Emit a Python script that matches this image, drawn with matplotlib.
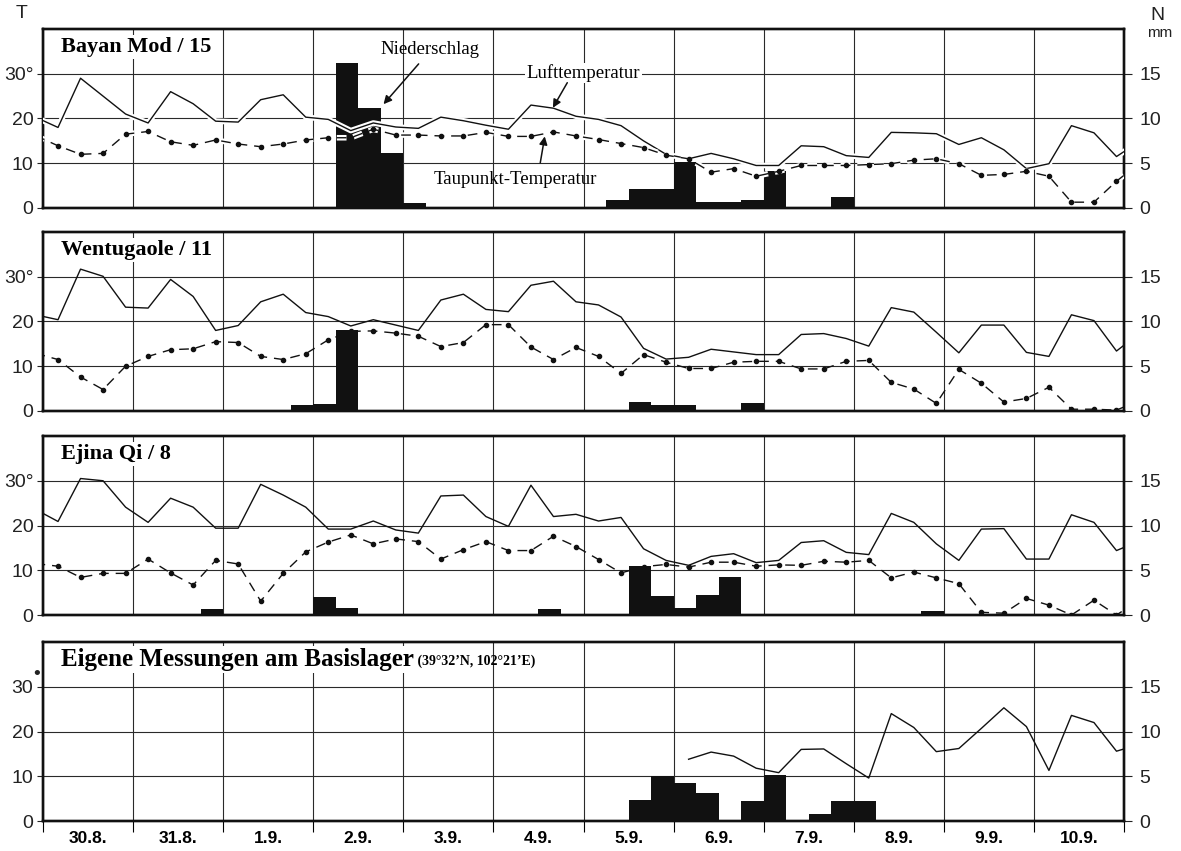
import matplotlib
matplotlib.use('Agg')
import matplotlib.pyplot as plt
import matplotlib.patheffects as pe
import numpy as np

plt.rcParams['font.family'] = ['Liberation Sans Narrow', 'Liberation Sans', 'DejaVu Sans']

nan = np.nan

day_labels = ['30.8.', '31.8.', '1.9.', '2.9.', '3.9.', '4.9.',
              '5.9.', '6.9.', '7.9.', '8.9.', '9.9.', '10.9.']

# observations at 4, 10, 16 and 22 h; first/last value belong to the
# neighbouring days and are only drawn up to the frame
obs_x = np.arange(-1, 49) * 0.25 + 4 / 24
rain_x = np.arange(48) * 0.25

# ---- Bayan Mod / 15
bayan_temp = [20.3,
              18, 29, 25, 21,
              19, 26, 23.3, 19.4,
              19.2, 24.2, 25.3, 20.3,
              19.8, 17.3, 19, 18.1,
              17.8, 20.3, 19.5, 18.5,
              17.6, 23, 22.3, 20.5,
              19.8, 18.4, 15, 12,
              11, 12.2, 11, 9.5,
              9.5, 13.9, 13.7, 11.7,
              11.3, 16.9, 16.8, 16.6,
              14.2, 15.7, 13, 8.8,
              9.9, 18.4, 16.8, 11.5,
              14.8]
bayan_dew = [16.2,
             13.9, 12, 12.2, 16.5,
             17.1, 14.8, 14, 15.2,
             14.3, 13.7, 14.3, 15.2,
             15.7, 15.7, 17.6, 16.3,
             16.3, 16.1, 16.1, 16.9,
             16, 16, 17, 16.1,
             15.3, 14.4, 13.5, 11.8,
             11, 8, 8.8, 7.1,
             8.2, 9.5, 9.5, 9.5,
             9.7, 9.9, 10.7, 11,
             9.9, 7.3, 7.5, 8.2,
             7.1, 1.3, 1.3, 6,
             9.9]
bayan_rain = [0, 0, 0, 0,
              0, 0, 0, 0,
              0, 0, 0, 0,
              0, 16.2, 11.2, 6.1,
              0.6, 0, 0, 0,
              0, 0, 0, 0,
              0, 0.9, 2.1, 2.1,
              5.1, 0.65, 0.65, 0.9,
              4.1, 0, 0, 1.2,
              0, 0, 0, 0,
              0, 0, 0, 0,
              0, 0, 0, 0]

# ---- Wentugaole / 11
wentu_temp = [21.5,
              20.4, 31.7, 30.1, 23.2,
              23, 29.4, 25.6, 18,
              19.1, 24.4, 26.1, 22,
              21.1, 19, 20.4, 19.2,
              18, 24.8, 26.1, 22.7,
              22.2, 28.1, 29, 24.4,
              23.7, 21, 14, 11.6,
              12, 13.8, 13.2, 12.6,
              12.6, 17.1, 17.3, 16.2,
              14.5, 23.1, 22.1, 17.6,
              13, 19.2, 19.2, 13.1,
              12.2, 21.5, 20.2, 13.4,
              17.3]
wentu_dew = [12.9,
             11.5, 7.6, 4.8, 10,
             12.2, 13.7, 13.9, 15.5,
             15.3, 12.2, 11.5, 12.8,
             15.9, 17.8, 17.9, 17.4,
             16.7, 14.4, 15.3, 19.3,
             19.3, 14.3, 11.5, 14.2,
             12.2, 8.4, 12.6, 10.9,
             9.5, 9.5, 10.9, 11.1,
             11.1, 9.4, 9.4, 11.1,
             11.3, 6.4, 4.9, 1.7,
             9.3, 6.2, 2, 2.8,
             5.3, 0.4, 0.4, 0.2,
             2.3]
wentu_rain = [0, 0, 0, 0,
              0, 0, 0, 0,
              0, 0, 0, 0.63,
              0.75, 9.1, 0, 0,
              0, 0, 0, 0,
              0, 0, 0, 0,
              0, 0, 1.0, 0.65,
              0.65, 0, 0, 0.9,
              0, 0, 0, 0,
              0, 0, 0, 0,
              0, 0, 0, 0,
              0, 0, 0, 0]

# ---- Ejina Qi / 8
ejina_temp = [23.6,
              20.9, 30.5, 30, 24.1,
              20.7, 26.1, 24.1, 19.4,
              19.4, 29.2, 26.8, 24.1,
              19.2, 19.2, 21, 19,
              18.3, 26.6, 26.8, 22,
              19.8, 29, 22, 22.5,
              21, 21.8, 14.8, 12.2,
              11.1, 13.1, 13.7, 11.7,
              12.2, 16.2, 16.6, 14,
              13.5, 22.7, 20.7, 15.9,
              12.2, 19.2, 19.3, 12.5,
              12.5, 22.4, 20.7, 14.4,
              16.5]
ejina_dew = [11.5,
             10.9, 8.4, 9.3, 9.3,
             12.5, 9.4, 6.7, 12.2,
             11.4, 3.1, 9.3, 14.1,
             16.3, 17.9, 15.9, 17,
             16.4, 12.5, 14.6, 16.4,
             14.4, 14.4, 17.6, 15.3,
             12.4, 9.4, 10.8, 11.3,
             10.7, 11.8, 11.8, 10.9,
             11.2, 11.1, 12, 11.8,
             12.2, 8.3, 9.6, 8.3,
             7, 0.6, 0.4, 3.7,
             2.2, 0, 3.3, 0,
             3.3]
ejina_rain = [0, 0, 0, 0,
              0, 0, 0, 0.7,
              0, 0, 0, 0,
              2.0, 0.75, 0, 0,
              0, 0, 0, 0,
              0, 0, 0.7, 0,
              0, 0, 5.5, 2.1,
              0.8, 2.2, 4.2, 0,
              0, 0, 0, 0,
              0, 0, 0, 0.5,
              0, 0, 0, 0,
              0, 0, 0, 0]

# ---- own measurements at base camp
camp_temp = [nan] + [nan] * 28 + [
             13.8, 15.4, 14.5, 11.8,
             10.8, 16, 16.1, 12.8,
             9.6, 24, 20.9, 15.5,
             16.2, 20.7, 25.3, 21.1,
             11.3, 23.6, 22, 15.6,
             17.1]
camp_rain = [0, 0, 0, 0,
             0, 0, 0, 0,
             0, 0, 0, 0,
             0, 0, 0, 0,
             0, 0, 0, 0,
             0, 0, 0, 0,
             0, 0, 2.3, 5.0,
             4.3, 3.1, 0, 2.2,
             5.1, 0, 0.8, 2.2,
             2.2, 0, 0, 0,
             0, 0, 0, 0,
             0, 0, 0, 0]

W, H = 1181, 851
fig = plt.figure(figsize=(W / 100, H / 100), dpi=100)

LEFT, WIDTH = 43 / W, 1081 / W
HEIGHT = 179 / H
bottoms_px = [208, 411, 615, 821]

serif = ['Liberation Serif', 'DejaVu Serif']
grid_kw = dict(color='#2a2a2a', linewidth=0.8)


def station_panel(bottom_px, title, temp, dew, rain, halo=False, last=False,
                  title_size=16):
    rect = [LEFT, 1 - bottom_px / H, WIDTH, HEIGHT]
    ax_n = fig.add_axes(rect)
    ax_t = fig.add_axes(rect, sharex=ax_n)
    ax_t.patch.set_visible(False)

    # precipitation (right axis, mm) with grid underneath
    ax_n.bar(rain_x, rain, width=0.25, align='edge', color='#111111',
             linewidth=0)
    ax_n.set_xlim(0, 12)
    ax_n.set_ylim(0, 20)
    ax_n.set_xticks(np.arange(13))
    ax_n.set_yticks([0, 5, 10, 15])
    ax_n.set_axisbelow(True)
    ax_n.grid(True, **grid_kw)
    ax_n.yaxis.tick_right()
    ax_n.tick_params(axis='y', direction='out', length=6, width=0.8,
                     pad=5, labelsize=14, colors='#222222')

    # temperatures (left axis)
    effects = None
    if halo:
        effects = [pe.Stroke(linewidth=4, foreground='white'), pe.Normal()]
    ax_t.plot(obs_x, temp, color='#111111', linewidth=1.0,
              path_effects=effects, zorder=3)
    if dew is not None:
        ax_t.plot(obs_x, dew, color='#111111', linewidth=1.0,
                  linestyle=(0, (7, 5)), path_effects=effects, zorder=3)
        ax_t.plot(obs_x, dew, linestyle='none', marker='o', markersize=3,
                  color='#111111', zorder=4)
    ax_t.set_ylim(0, 40)
    ax_t.set_yticks([0, 10, 20, 30])
    ax_t.set_yticklabels(['0', '10', '20', '30' if last else '30°'])
    ax_t.tick_params(axis='y', direction='out', length=4, width=0.8,
                     pad=3, labelsize=14, colors='#222222')
    ax_t.tick_params(axis='x', which='both', length=0, labelbottom=False)

    for a in (ax_n, ax_t):
        for sp in a.spines.values():
            sp.set_linewidth(1.7)
            sp.set_color('#111111')

    if last:
        ax_n.set_xticks(np.arange(12) + 0.5, minor=True)
        ax_n.set_xticklabels(day_labels, minor=True)
        ax_n.set_xticklabels([])
        ax_n.tick_params(axis='x', which='major', direction='out',
                         length=8, width=0.8)
        ax_n.tick_params(axis='x', which='minor', length=0, pad=7,
                         labelsize=12.5)
        for lab in ax_n.get_xticklabels(minor=True):
            lab.set_fontweight('bold')
            lab.set_family(['Liberation Sans', 'DejaVu Sans'])
    else:
        ax_n.tick_params(axis='x', which='both', length=0, labelbottom=False)

    txt = ax_t.text(0.017, 0.9, title, transform=ax_t.transAxes,
                    fontsize=title_size, fontweight='bold', family=serif,
                    va='center', ha='left', zorder=5,
                    bbox=dict(facecolor='white', edgecolor='none', pad=1.5))
    return ax_t, ax_n, txt


arrow_kw = dict(arrowstyle='-|>', color='#111111', lw=1.1,
                mutation_scale=12, shrinkA=0, shrinkB=0)
note_kw = dict(fontsize=13.5, family=serif, ha='center', va='center')

ax1, _, _ = station_panel(bottoms_px[0], 'Bayan Mod / 15',
                          bayan_temp, bayan_dew, bayan_rain, halo=True)
ax1.text(4.3, 35.5, 'Niederschlag', zorder=6, **note_kw)
ax1.annotate('', xy=(3.78, 23.2), xytext=(4.17, 32.2),
             arrowprops=arrow_kw, zorder=6)
ax1.text(6.0, 30.2, 'Lufttemperatur', zorder=6,
         bbox=dict(facecolor='white', edgecolor='none', pad=1), **note_kw)
ax1.annotate('', xy=(5.66, 22.4), xytext=(5.82, 28.0),
             arrowprops=arrow_kw, zorder=6)
ax1.text(5.24, 6.3, 'Taupunkt-Temperatur', zorder=6, **note_kw)
ax1.annotate('', xy=(5.57, 16.0), xytext=(5.52, 10.1),
             arrowprops=arrow_kw, zorder=6)

station_panel(bottoms_px[1], 'Wentugaole / 11', wentu_temp, wentu_dew,
              wentu_rain)
station_panel(bottoms_px[2], 'Ejina Qi / 8', ejina_temp, ejina_dew,
              ejina_rain)
ax4, _, t4 = station_panel(bottoms_px[3], 'Eigene Messungen am Basislager',
                           camp_temp, None, camp_rain, last=True,
                           title_size=18)
ax4.annotate(' (39°32’N, 102°21’E)', xy=(1, 0.14), xycoords=t4,
             fontsize=10, fontweight='bold', family=serif,
             ha='left', va='bottom', zorder=5)
ax4.annotate('•', xy=(0, 30), xycoords=('axes fraction', 'data'),
             xytext=(-4.5, 9), textcoords='offset points', fontsize=14,
             ha='center', va='center', color='#222222')

# axis captions
fig.text(22 / W, 1 - 14 / H, 'T', fontsize=14, ha='center', va='center',
         color='#222222')
fig.text(1157 / W, 1 - 15 / H, 'N', fontsize=14, ha='center', va='center',
         color='#222222')
fig.text(1160 / W, 1 - 33 / H, 'mm', fontsize=11, ha='center', va='center',
         color='#222222')

fig.savefig('out.png', dpi=100)
